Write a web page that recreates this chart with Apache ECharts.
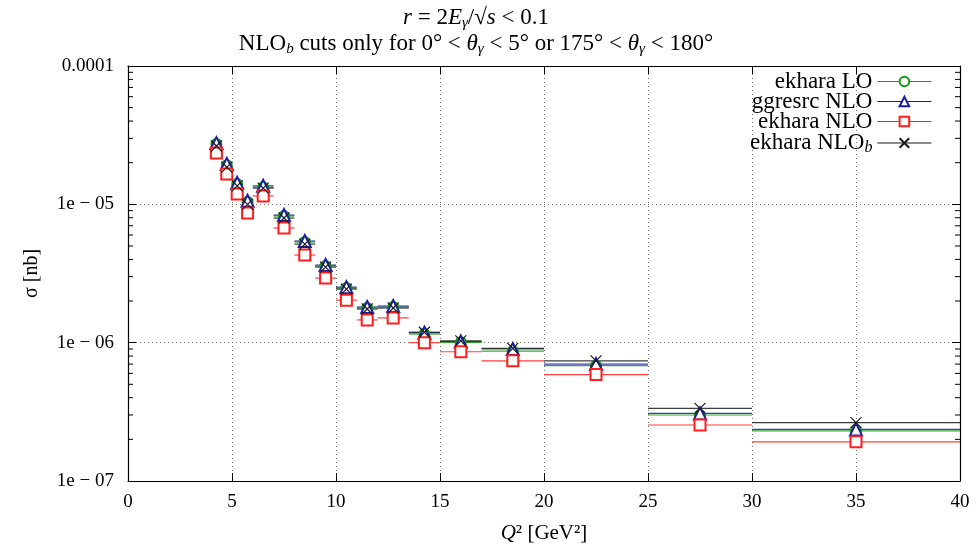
<!DOCTYPE html>
<html>
<head>
<meta charset="utf-8">
<script src="https://cdn.jsdelivr.net/npm/echarts@6/dist/echarts.min.js"></script>
<style>
  html, body { margin: 0; padding: 0; background: #fff; }
  #chart { width: 977px; height: 550px; }
</style>
</head>
<body>
<div id="chart"></div>
<script>
// Q^2 bins [GeV^2]
var binLo  = [4, 4.5, 5, 5.5, 6, 7, 8, 9, 10, 11, 12, 13.5, 15, 17, 20, 25, 30];
var binHi  = [4.5, 5, 5.5, 6, 7, 8, 9, 10, 11, 12, 13.5, 15, 17, 20, 25, 30, 40];
var binMid = [4.25, 4.75, 5.25, 5.75, 6.5, 7.5, 8.5, 9.5, 10.5, 11.5, 12.75, 14.25, 16, 18.5, 22.5, 27.5, 35];

// cross sections [nb]
var ekharaLO   = [2.73e-5, 1.92e-5, 1.40e-5, 1.04e-5, 1.33e-5, 8.23e-6, 5.34e-6, 3.58e-6, 2.48e-6, 1.78e-6, 1.81e-6, 1.154e-6, 1.005e-6, 8.7e-7, 6.83e-7, 3.0e-7, 2.30e-7];
var ggresrcNLO = [2.77e-5, 1.96e-5, 1.43e-5, 1.06e-5, 1.36e-5, 8.37e-6, 5.43e-6, 3.64e-6, 2.52e-6, 1.81e-6, 1.84e-6, 1.18e-6, 1.02e-6, 9.0e-7, 7.0e-7, 3.08e-7, 2.36e-7];
var ekharaNLO  = [2.35e-5, 1.66e-5, 1.19e-5, 8.65e-6, 1.15e-5, 6.74e-6, 4.30e-6, 2.93e-6, 2.03e-6, 1.46e-6, 1.51e-6, 1.0e-6, 8.6e-7, 7.39e-7, 5.88e-7, 2.54e-7, 1.92e-7];
var ekharaNLOb = [2.64e-5, 1.86e-5, 1.36e-5, 1.0e-5, 1.31e-5, 7.96e-6, 5.16e-6, 3.52e-6, 2.44e-6, 1.75e-6, 1.78e-6, 1.19e-6, 1.03e-6, 9.1e-7, 7.38e-7, 3.35e-7, 2.64e-7];

var yTickLabels = { '-4': '0.0001', '-5': '1e − 05', '-6': '1e − 06', '-7': '1e − 07' };

var FONT = 'Liberation Serif';
var myChart = echarts.init(document.getElementById('chart'));

var sets = [
    { name: 'ekhara LO',    vals: ekharaLO,   color: '#139a13', symbol: 'emptyCircle',   size: 10 },
    { name: 'ggresrc NLO',  vals: ggresrcNLO, color: '#1c1ca0', symbol: 'emptyTriangle', size: 12 },
    { name: 'ekhara NLO',   vals: ekharaNLO,  color: '#ff1c1c', symbol: 'emptyRect',     size: 11 },
    { name: 'ekhara NLOb',  vals: ekharaNLOb, color: '#1a1a1a', symbol: 'path://M0,0L10,10M10,0L0,10', size: 11 }
];

function binBars(s) {
    return {
        type: 'custom',
        name: s.name + ' bins',
        xAxisIndex: 0, yAxisIndex: 0,
        z: 2,
        data: binLo.map(function (lo, i) { return [lo, binHi[i], s.vals[i]]; }),
        encode: { x: [0, 1], y: 2 },
        renderItem: function (params, api) {
            var a = api.coord([api.value(0), api.value(2)]);
            var b = api.coord([api.value(1), api.value(2)]);
            return {
                type: 'line',
                shape: { x1: a[0], y1: a[1], x2: b[0], y2: b[1] },
                style: { stroke: s.color, lineWidth: 1.2, opacity: 0.85 }
            };
        }
    };
}

function markers(s) {
    return {
        type: 'line',
        name: s.name,
        xAxisIndex: 0, yAxisIndex: 0,
        z: 3,
        data: binMid.map(function (x, i) { return [x, s.vals[i]]; }),
        symbol: s.symbol,
        symbolSize: s.size,
        showAllSymbol: true,
        lineStyle: { width: 1.2, color: s.color, opacity: 0 },
        itemStyle: { color: s.color, borderColor: s.color, borderWidth: 1.2 },
        emphasis: { disabled: true },
        animation: false
    };
}

// log minor ticks (2..9 per decade) on the left and right frame
var minorTickVals = [];
[-7, -6, -5].forEach(function (e) {
    for (var k = 2; k <= 9; k++) minorTickVals.push(k * Math.pow(10, e));
});

var series = [];
sets.forEach(function (s) { series.push(binBars(s)); });
sets.forEach(function (s) { series.push(markers(s)); });
series.push({
    type: 'custom',
    name: 'minor',
    xAxisIndex: 0, yAxisIndex: 0,
    silent: true,
    data: minorTickVals.map(function (v) { return [0, v]; }),
    renderItem: function (params, api) {
        var p = api.coord([0, api.value(1)]);
        var cs = params.coordSys;
        return {
            type: 'group',
            children: [
                { type: 'line', shape: { x1: cs.x, y1: p[1], x2: cs.x + 5, y2: p[1] }, style: { stroke: '#000', lineWidth: 1 } },
                { type: 'line', shape: { x1: cs.x + cs.width, y1: p[1], x2: cs.x + cs.width - 5, y2: p[1] }, style: { stroke: '#000', lineWidth: 1 } }
            ]
        };
    }
});

myChart.setOption({
    animation: false,
    backgroundColor: '#fff',
    title: {
        text: '{i|r} = 2{i|E}{s|γ}/√{i|s} < 0.1\nNLO{s|b} cuts only for 0° < {i|θ}{s|γ} < 5° or 175° < {i|θ}{s|γ} < 180°',
        left: 471,
        top: 0,
        textAlign: 'center',
        textStyle: {
            fontFamily: FONT, fontSize: 23, fontWeight: 'normal', color: '#000', lineHeight: 26,
            rich: {
                i: { fontFamily: FONT, fontSize: 23, fontStyle: 'italic', lineHeight: 26 },
                s: { fontFamily: FONT, fontSize: 15, fontStyle: 'italic', verticalAlign: 'bottom', lineHeight: 26 }
            }
        }
    },
    legend: {
        data: sets.map(function (s) { return s.name; }),
        orient: 'vertical',
        right: 40,
        top: 65,
        align: 'right',
        itemWidth: 54,
        itemHeight: 12,
        itemGap: -3,
        selectedMode: false,
        lineStyle: { opacity: 1, width: 1.2 },
        textStyle: {
            fontFamily: FONT, fontSize: 23, color: '#000', lineHeight: 21,
            rich: { s: { fontFamily: FONT, fontSize: 16, fontStyle: 'italic', verticalAlign: 'bottom', lineHeight: 26 } }
        },
        formatter: function (name) {
            return name === 'ekhara NLOb' ? 'ekhara NLO{s|b}' : name;
        }
    },
    grid: { left: 128, right: 17, top: 66, bottom: 69 },
    xAxis: [{
        type: 'value',
        min: 0, max: 40, interval: 5,
        name: '{i|Q}² [GeV²]',
        nameLocation: 'middle',
        nameGap: 42,
        nameTextStyle: {
            fontFamily: FONT, fontSize: 21, color: '#000',
            rich: { i: { fontFamily: FONT, fontSize: 21, fontStyle: 'italic' } }
        },
        axisLine: { show: true, onZero: false, lineStyle: { color: '#000', width: 1.2 } },
        axisTick: { inside: true, length: 8, lineStyle: { color: '#000' } },
        axisLabel: { fontFamily: FONT, fontSize: 19, color: '#000', margin: 12 },
        splitLine: { show: true, lineStyle: { color: '#777', type: [1, 3], width: 1 } }
    }, {
        type: 'value',
        position: 'top',
        min: 0, max: 40, interval: 5,
        axisLine: { show: true, onZero: false, lineStyle: { color: '#000', width: 1.2 } },
        axisTick: { inside: true, length: 8, lineStyle: { color: '#000' } },
        axisLabel: { show: false },
        splitLine: { show: false }
    }],
    yAxis: [{
        type: 'log',
        min: 1e-7, max: 1e-4,
        logBase: 10,
        name: 'σ [nb]',
        nameLocation: 'middle',
        nameGap: 86,
        nameRotate: 90,
        nameTextStyle: { fontFamily: FONT, fontSize: 20, color: '#000' },
        axisLine: { show: true, onZero: false, lineStyle: { color: '#000', width: 1.2 } },
        axisTick: { inside: true, length: 8, lineStyle: { color: '#000' } },
        axisLabel: {
            fontFamily: FONT, fontSize: 19, color: '#000', margin: 14,
            formatter: function (v) {
                var e = Math.round(Math.log10(v));
                return yTickLabels[String(e)] || '';
            }
        },
        splitLine: { show: true, lineStyle: { color: '#777', type: [1, 3], width: 1 } }
    }, {
        type: 'log',
        position: 'right',
        min: 1e-7, max: 1e-4,
        logBase: 10,
        axisLine: { show: true, onZero: false, lineStyle: { color: '#000', width: 1.2 } },
        axisTick: { inside: true, length: 8, lineStyle: { color: '#000' } },
        axisLabel: { show: false },
        splitLine: { show: false }
    }],
    series: series
});
</script>
</body>
</html>
